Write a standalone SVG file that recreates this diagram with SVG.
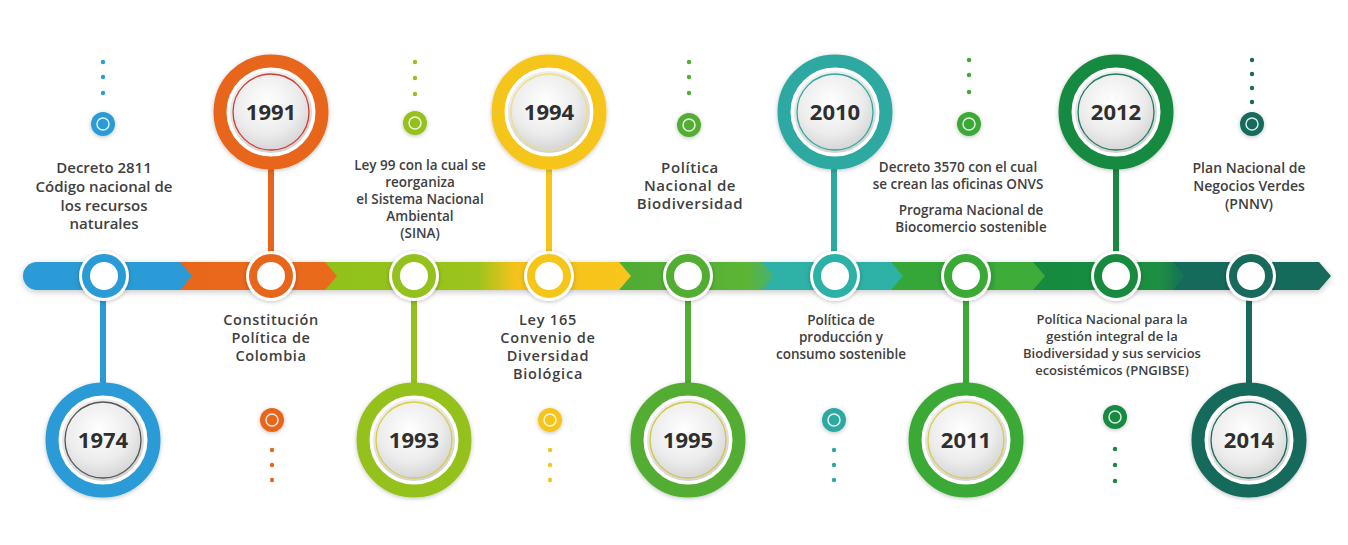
<svg xmlns="http://www.w3.org/2000/svg" width="1348" height="545" viewBox="0 0 1348 545">
<defs>
<filter id="sh" x="-20%" y="-40%" width="140%" height="180%"><feDropShadow dx="0" dy="2" stdDeviation="3" flood-color="#000" flood-opacity="0.22"/></filter>
<filter id="sh2" x="-30%" y="-30%" width="160%" height="160%"><feDropShadow dx="0" dy="1" stdDeviation="2" flood-color="#000" flood-opacity="0.25"/></filter>
<radialGradient id="disc" cx="45%" cy="38%" r="65%"><stop offset="0" stop-color="#ffffff"/><stop offset="0.6" stop-color="#ececec"/><stop offset="1" stop-color="#cfcfcf"/></radialGradient>
<linearGradient id="gLimeY" x1="325" y1="0" x2="631" y2="0" gradientUnits="userSpaceOnUse"><stop offset="0" stop-color="#8fc11f"/><stop offset="0.5" stop-color="#9cc41e"/><stop offset="0.62" stop-color="#f5c21a"/><stop offset="1" stop-color="#f7c51a"/></linearGradient>
<linearGradient id="gOrL" x1="180" y1="0" x2="337" y2="0" gradientUnits="userSpaceOnUse"><stop offset="0" stop-color="#e8661c"/><stop offset="1" stop-color="#ea6a1a"/></linearGradient>
<linearGradient id="gGrT" x1="619" y1="0" x2="790" y2="0" gradientUnits="userSpaceOnUse"><stop offset="0" stop-color="#4fab34"/><stop offset="0.75" stop-color="#5cb534"/><stop offset="1" stop-color="#38b0a0"/></linearGradient>
<linearGradient id="gDgT" x1="1033" y1="0" x2="1190" y2="0" gradientUnits="userSpaceOnUse"><stop offset="0" stop-color="#178a40"/><stop offset="0.8" stop-color="#1b8f42"/><stop offset="1" stop-color="#176a5c"/></linearGradient>
<style>
.lbl{font-family:"Open Sans","Liberation Sans",sans-serif;font-weight:600;fill:#404040;text-anchor:middle}
.yr{font-family:"Open Sans","Liberation Sans",sans-serif;font-weight:700;font-size:22px;fill:#2f2f2f;text-anchor:middle}
.pole{stroke-width:6;fill:none}
.dot{stroke:none}
.ringbg{fill:#fff}
.ringc{fill:#fff;stroke-width:8}
.bigring{fill:#fff;stroke-width:13}
.inner{fill:url(#disc)}
.thin{fill:none;stroke-width:1.3}
.smallin{fill:none;stroke:#fff;stroke-width:1.5;opacity:0.85}
</style>
</defs>
<rect width="1348" height="545" fill="#ffffff"/>

<g id="band" filter="url(#sh)">
  <polygon points="1170,262 1319,262 1331,276 1319,290 1170,290" fill="#176a5c"/>
  <polygon points="1033,262 1173,262 1185,276 1173,290 1033,290" fill="url(#gDgT)"/>
  <polygon points="891,262 1033,262 1045,276 1033,290 891,290" fill="#36a637"/>
  <polygon points="995,262 1033,262 1045,276 1033,290 995,290" fill="#43b13a" opacity="0.6"/>
  <polygon points="762,262 891,262 903,276 891,290 762,290" fill="#2db1a6"/>
  <polygon points="619,262 762,262 774,276 762,290 619,290" fill="url(#gGrT)"/>
  <polygon points="325,262 619,262 631,276 619,290 325,290" fill="url(#gLimeY)"/>
  <polygon points="180,262 325,262 337,276 325,290 180,290" fill="url(#gOrL)"/>
  <path d="M37,262 L180,262 L192,276 L180,290 L37,290 A14,14 0 0 1 37,262 Z" fill="#2b9bd6"/>
</g>

<g id="connectors">
  <line class="pole" x1="103" y1="300" x2="103" y2="384" stroke="#2b9bd6"/>
  <line class="pole" x1="271" y1="168" x2="271" y2="254" stroke="#e8661c"/>
  <line class="pole" x1="414" y1="300" x2="414" y2="384" stroke="#95c11f"/>
  <line class="pole" x1="549" y1="168" x2="549" y2="254" stroke="#f5c51a"/>
  <line class="pole" x1="688" y1="300" x2="688" y2="384" stroke="#52ad33"/>
  <line class="pole" x1="834" y1="168" x2="834" y2="254" stroke="#2da9a1"/>
  <line class="pole" x1="966" y1="300" x2="966" y2="384" stroke="#3aa935"/>
  <line class="pole" x1="1116" y1="168" x2="1116" y2="254" stroke="#178a40"/>
  <line class="pole" x1="1249" y1="300" x2="1249" y2="384" stroke="#176a5c"/>
</g>

<g id="rings">
  <g id="ring1974"><circle class="ringbg" cx="104" cy="276" r="25" filter="url(#sh2)"/><circle class="ringc" cx="104" cy="276" r="18" stroke="#2b9bd6"/></g>
  <g id="ring1991"><circle class="ringbg" cx="271" cy="276" r="25" filter="url(#sh2)"/><circle class="ringc" cx="271" cy="276" r="18" stroke="#e8661c"/></g>
  <g id="ring1993"><circle class="ringbg" cx="414" cy="276" r="25" filter="url(#sh2)"/><circle class="ringc" cx="414" cy="276" r="18" stroke="#95c11f"/></g>
  <g id="ring1994"><circle class="ringbg" cx="549" cy="276" r="25" filter="url(#sh2)"/><circle class="ringc" cx="549" cy="276" r="18" stroke="#f5c51a"/></g>
  <g id="ring1995"><circle class="ringbg" cx="688" cy="276" r="25" filter="url(#sh2)"/><circle class="ringc" cx="688" cy="276" r="18" stroke="#52ad33"/></g>
  <g id="ring2010"><circle class="ringbg" cx="835" cy="276" r="25" filter="url(#sh2)"/><circle class="ringc" cx="835" cy="276" r="18" stroke="#2db1a6"/></g>
  <g id="ring2011"><circle class="ringbg" cx="966" cy="276" r="25" filter="url(#sh2)"/><circle class="ringc" cx="966" cy="276" r="18" stroke="#3aa935"/></g>
  <g id="ring2012"><circle class="ringbg" cx="1116" cy="276" r="25" filter="url(#sh2)"/><circle class="ringc" cx="1116" cy="276" r="18" stroke="#178a40"/></g>
  <g id="ring2014"><circle class="ringbg" cx="1251" cy="276" r="25" filter="url(#sh2)"/><circle class="ringc" cx="1251" cy="276" r="18" stroke="#176a5c"/></g>
</g>

<g id="y1974"><circle class="bigring" cx="103" cy="440" r="51" stroke="#2b9bd6" filter="url(#sh2)"/><circle class="inner" cx="103" cy="440" r="41"/><circle class="thin" cx="103" cy="440" r="38" stroke="#555"/><text class="yr" x="103" y="448">1974</text></g>
<g id="y1991"><circle class="bigring" cx="271" cy="112" r="51" stroke="#e8661c" filter="url(#sh2)"/><circle class="inner" cx="271" cy="112" r="41"/><circle class="thin" cx="271" cy="112" r="38" stroke="#d83a2e"/><text class="yr" x="271" y="120">1991</text></g>
<g id="y1993"><circle class="bigring" cx="414" cy="440" r="51" stroke="#95c11f" filter="url(#sh2)"/><circle class="inner" cx="414" cy="440" r="41"/><circle class="thin" cx="414" cy="440" r="38" stroke="#d9cf3c"/><text class="yr" x="414" y="448">1993</text></g>
<g id="y1994"><circle class="bigring" cx="549" cy="112" r="51" stroke="#f5c51a" filter="url(#sh2)"/><circle class="inner" cx="549" cy="112" r="41"/><circle class="thin" cx="549" cy="112" r="38" stroke="#efe07c"/><text class="yr" x="549" y="120">1994</text></g>
<g id="y1995"><circle class="bigring" cx="688" cy="440" r="51" stroke="#52ad33" filter="url(#sh2)"/><circle class="inner" cx="688" cy="440" r="41"/><circle class="thin" cx="688" cy="440" r="38" stroke="#cfc93c"/><text class="yr" x="688" y="448">1995</text></g>
<g id="y2010"><circle class="bigring" cx="835" cy="112" r="51" stroke="#2da9a1" filter="url(#sh2)"/><circle class="inner" cx="835" cy="112" r="41"/><circle class="thin" cx="835" cy="112" r="38" stroke="#2da9a1"/><text class="yr" x="835" y="120">2010</text></g>
<g id="y2011"><circle class="bigring" cx="966" cy="440" r="51" stroke="#3aa935" filter="url(#sh2)"/><circle class="inner" cx="966" cy="440" r="41"/><circle class="thin" cx="966" cy="440" r="38" stroke="#d5cf4a"/><text class="yr" x="966" y="448">2011</text></g>
<g id="y2012"><circle class="bigring" cx="1116" cy="112" r="51" stroke="#178a40" filter="url(#sh2)"/><circle class="inner" cx="1116" cy="112" r="41"/><circle class="thin" cx="1116" cy="112" r="38" stroke="#1f7f5f"/><text class="yr" x="1116" y="120">2012</text></g>
<g id="y2014"><circle class="bigring" cx="1249" cy="440" r="51" stroke="#176a5c" filter="url(#sh2)"/><circle class="inner" cx="1249" cy="440" r="41"/><circle class="thin" cx="1249" cy="440" r="38" stroke="#176a5c"/><text class="yr" x="1249" y="448">2014</text></g>

<g id="m1974" fill="#2b9bd6">
  <circle class="dot" cx="103" cy="62" r="2.2"/><circle class="dot" cx="103" cy="77" r="2.2"/><circle class="dot" cx="103" cy="93" r="2.2"/>
  <circle cx="103" cy="124" r="12" filter="url(#sh2)"/><circle class="smallin" cx="103" cy="124" r="6"/>
</g>
<g id="m1991" fill="#e8661c">
  <circle cx="272" cy="420" r="12" filter="url(#sh2)"/><circle class="smallin" cx="272" cy="420" r="6"/>
  <circle class="dot" cx="272" cy="450" r="2.2"/><circle class="dot" cx="272" cy="465" r="2.2"/><circle class="dot" cx="272" cy="480" r="2.2"/>
</g>
<g id="m1993" fill="#95c11f">
  <circle class="dot" cx="415" cy="62" r="2.2"/><circle class="dot" cx="415" cy="78" r="2.2"/><circle class="dot" cx="415" cy="94" r="2.2"/>
  <circle cx="415" cy="123" r="12" filter="url(#sh2)"/><circle class="smallin" cx="415" cy="123" r="6"/>
</g>
<g id="m1994" fill="#f5c51a">
  <circle cx="550" cy="420" r="12" filter="url(#sh2)"/><circle class="smallin" cx="550" cy="420" r="6"/>
  <circle class="dot" cx="550" cy="450" r="2.2"/><circle class="dot" cx="550" cy="465" r="2.2"/><circle class="dot" cx="550" cy="480" r="2.2"/>
</g>
<g id="m1995" fill="#52ad33">
  <circle class="dot" cx="689" cy="62" r="2.2"/><circle class="dot" cx="689" cy="77" r="2.2"/><circle class="dot" cx="689" cy="93" r="2.2"/>
  <circle cx="689" cy="125" r="12" filter="url(#sh2)"/><circle class="smallin" cx="689" cy="125" r="6"/>
</g>
<g id="m2010" fill="#2da9a1">
  <circle cx="834" cy="420" r="12" filter="url(#sh2)"/><circle class="smallin" cx="834" cy="420" r="6"/>
  <circle class="dot" cx="834" cy="450" r="2.2"/><circle class="dot" cx="834" cy="465" r="2.2"/><circle class="dot" cx="834" cy="480" r="2.2"/>
</g>
<g id="m2011" fill="#3aa935">
  <circle class="dot" cx="969" cy="60" r="2.2"/><circle class="dot" cx="969" cy="75" r="2.2"/><circle class="dot" cx="969" cy="92" r="2.2"/>
  <circle cx="969" cy="124" r="12" filter="url(#sh2)"/><circle class="smallin" cx="969" cy="124" r="6"/>
</g>
<g id="m2012" fill="#178a40">
  <circle cx="1115" cy="417" r="12" filter="url(#sh2)"/><circle class="smallin" cx="1115" cy="417" r="6"/>
  <circle class="dot" cx="1115" cy="449" r="2.2"/><circle class="dot" cx="1115" cy="465" r="2.2"/><circle class="dot" cx="1115" cy="481" r="2.2"/>
</g>
<g id="m2014" fill="#176a5c">
  <circle class="dot" cx="1252" cy="60" r="2.2"/><circle class="dot" cx="1252" cy="74" r="2.2"/><circle class="dot" cx="1252" cy="88" r="2.2"/><circle class="dot" cx="1252" cy="102" r="2.2"/>
  <circle cx="1252" cy="124" r="12" filter="url(#sh2)"/><circle class="smallin" cx="1252" cy="124" r="6"/>
</g>

<g id="t1974" class="lbl" font-size="15">
  <text x="104" y="173">Decreto 2811</text><text x="104" y="192">Código nacional de</text><text x="104" y="211">los recursos</text><text x="104" y="229">naturales</text>
</g>
<g id="t1991" class="lbl" font-size="14.5" letter-spacing="0.6">
  <text x="271" y="325">Constitución</text><text x="271" y="343">Política de</text><text x="271" y="361">Colombia</text>
</g>
<g id="t1993" class="lbl" font-size="13.5">
  <text x="420" y="170">Ley 99 con la cual se</text><text x="420" y="187">reorganiza</text><text x="420" y="204">el Sistema Nacional</text><text x="420" y="221">Ambiental</text><text x="420" y="238">(SINA)</text>
</g>
<g id="t1994" class="lbl" font-size="14.5" letter-spacing="0.8">
  <text x="548" y="325">Ley 165</text><text x="548" y="343">Convenio de</text><text x="548" y="361">Diversidad</text><text x="548" y="379">Biológica</text>
</g>
<g id="t1995" class="lbl" font-size="15" letter-spacing="0.6">
  <text x="690" y="173">Política</text><text x="690" y="191">Nacional de</text><text x="690" y="209">Biodiversidad</text>
</g>
<g id="t2010" class="lbl" font-size="13.5">
  <text x="841" y="325">Política de</text><text x="841" y="342">producción y</text><text x="841" y="359">consumo sostenible</text>
</g>
<g id="t2011" class="lbl" font-size="13.5">
  <text x="958" y="172">Decreto 3570 con el cual</text><text x="958" y="189">se crean las oficinas ONVS</text><text x="971" y="215">Programa Nacional de</text><text x="971" y="232">Biocomercio sostenible</text>
</g>
<g id="t2012" class="lbl" font-size="13">
  <text x="1112" y="324">Política Nacional para la</text><text x="1112" y="341">gestión integral de la</text><text x="1112" y="358">Biodiversidad y sus servicios</text><text x="1112" y="375">ecosistémicos (PNGIBSE)</text>
</g>
<g id="t2014" class="lbl" font-size="14">
  <text x="1249" y="173">Plan Nacional de</text><text x="1249" y="191">Negocios Verdes</text><text x="1249" y="209">(PNNV)</text>
</g>
</svg>
